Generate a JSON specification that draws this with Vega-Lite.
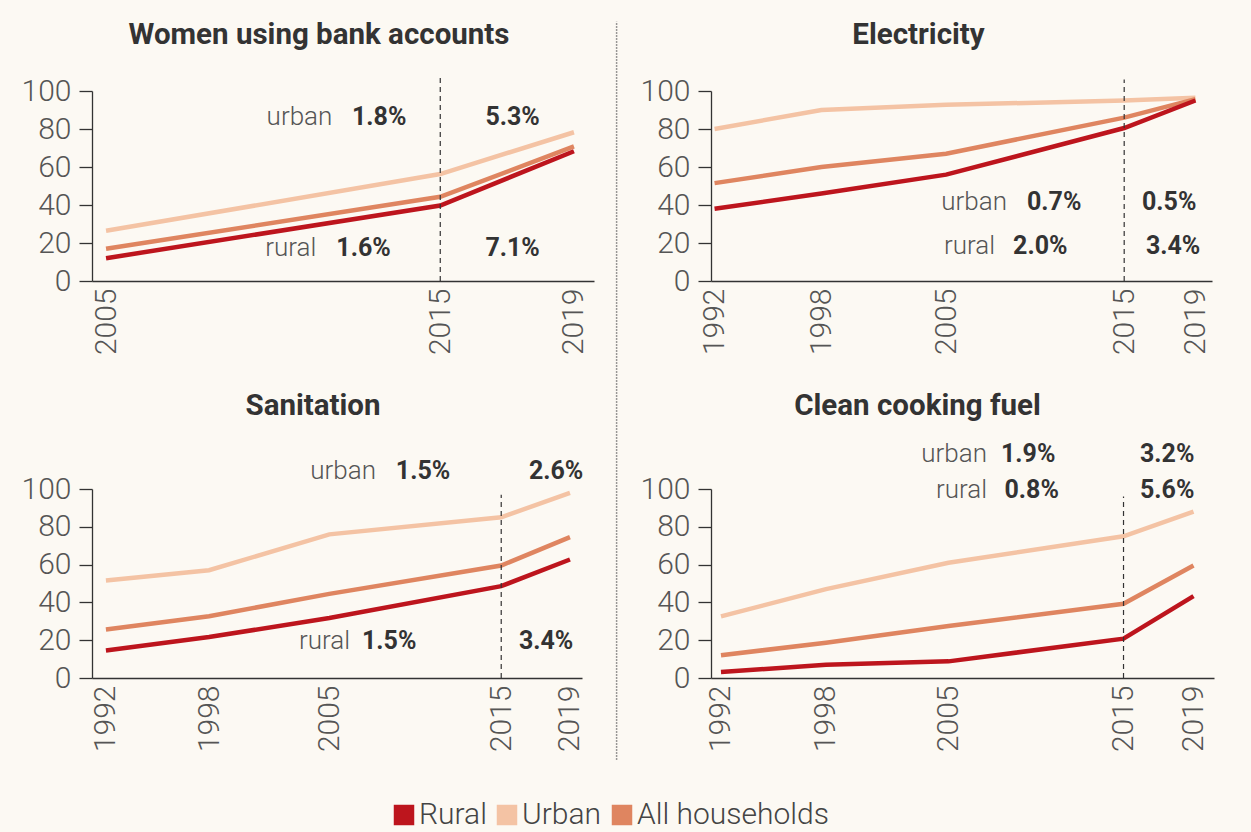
{
  "$schema": "https://vega.github.io/schema/vega-lite/v6.json",
  "padding": {"left": 21, "top": 19, "right": 45, "bottom": 10},
  "bounds": "flush",
  "columns": 2,
  "spacing": {"row": 208, "column": 117},
  "datasets": {
    "lines": [
      {"panel": "bank", "group": "Urban", "year": 2005, "value": 26.4},
      {"panel": "bank", "group": "Urban", "year": 2015, "value": 56.3},
      {"panel": "bank", "group": "Urban", "year": 2019, "value": 78.3},
      {"panel": "bank", "group": "All households", "year": 2005, "value": 17},
      {"panel": "bank", "group": "All households", "year": 2015, "value": 44.3},
      {"panel": "bank", "group": "All households", "year": 2019, "value": 70.8},
      {"panel": "bank", "group": "Rural", "year": 2005, "value": 12},
      {"panel": "bank", "group": "Rural", "year": 2015, "value": 39.7},
      {"panel": "bank", "group": "Rural", "year": 2019, "value": 68.3},

      {"panel": "elec", "group": "Urban", "year": 1992, "value": 80},
      {"panel": "elec", "group": "Urban", "year": 1998, "value": 90},
      {"panel": "elec", "group": "Urban", "year": 2005, "value": 92.7},
      {"panel": "elec", "group": "Urban", "year": 2015, "value": 95},
      {"panel": "elec", "group": "Urban", "year": 2019, "value": 96.5},
      {"panel": "elec", "group": "All households", "year": 1992, "value": 51.5},
      {"panel": "elec", "group": "All households", "year": 1998, "value": 60},
      {"panel": "elec", "group": "All households", "year": 2005, "value": 67},
      {"panel": "elec", "group": "All households", "year": 2015, "value": 86},
      {"panel": "elec", "group": "All households", "year": 2019, "value": 95.7},
      {"panel": "elec", "group": "Rural", "year": 1992, "value": 38},
      {"panel": "elec", "group": "Rural", "year": 1998, "value": 46},
      {"panel": "elec", "group": "Rural", "year": 2005, "value": 56},
      {"panel": "elec", "group": "Rural", "year": 2015, "value": 80.5},
      {"panel": "elec", "group": "Rural", "year": 2019, "value": 95},

      {"panel": "sani", "group": "Urban", "year": 1992, "value": 51.6},
      {"panel": "sani", "group": "Urban", "year": 1998, "value": 57},
      {"panel": "sani", "group": "Urban", "year": 2005, "value": 76},
      {"panel": "sani", "group": "Urban", "year": 2015, "value": 85},
      {"panel": "sani", "group": "Urban", "year": 2019, "value": 98},
      {"panel": "sani", "group": "All households", "year": 1992, "value": 25.7},
      {"panel": "sani", "group": "All households", "year": 1998, "value": 32.7},
      {"panel": "sani", "group": "All households", "year": 2005, "value": 44.5},
      {"panel": "sani", "group": "All households", "year": 2015, "value": 59.5},
      {"panel": "sani", "group": "All households", "year": 2019, "value": 74.5},
      {"panel": "sani", "group": "Rural", "year": 1992, "value": 14.6},
      {"panel": "sani", "group": "Rural", "year": 1998, "value": 21.7},
      {"panel": "sani", "group": "Rural", "year": 2005, "value": 31.7},
      {"panel": "sani", "group": "Rural", "year": 2015, "value": 48.6},
      {"panel": "sani", "group": "Rural", "year": 2019, "value": 62.7},

      {"panel": "cook", "group": "Urban", "year": 1992, "value": 32.6},
      {"panel": "cook", "group": "Urban", "year": 1998, "value": 47},
      {"panel": "cook", "group": "Urban", "year": 2005, "value": 61},
      {"panel": "cook", "group": "Urban", "year": 2015, "value": 75},
      {"panel": "cook", "group": "Urban", "year": 2019, "value": 88},
      {"panel": "cook", "group": "All households", "year": 1992, "value": 12},
      {"panel": "cook", "group": "All households", "year": 1998, "value": 18.7},
      {"panel": "cook", "group": "All households", "year": 2005, "value": 27.5},
      {"panel": "cook", "group": "All households", "year": 2015, "value": 39.3},
      {"panel": "cook", "group": "All households", "year": 2019, "value": 59.5},
      {"panel": "cook", "group": "Rural", "year": 1992, "value": 3.2},
      {"panel": "cook", "group": "Rural", "year": 1998, "value": 7},
      {"panel": "cook", "group": "Rural", "year": 2005, "value": 8.8},
      {"panel": "cook", "group": "Rural", "year": 2015, "value": 20.8},
      {"panel": "cook", "group": "Rural", "year": 2019, "value": 43.3}
    ],
    "rules": [
      {"panel": "bank", "kind": "dash", "year": 2015, "y": 0, "y2": 107},
      {"panel": "elec", "kind": "dash", "year": 2015, "y": 0, "y2": 106},
      {"panel": "sani", "kind": "dash", "year": 2015, "y": 0, "y2": 97},
      {"panel": "cook", "kind": "dash", "year": 2015, "y": 0, "y2": 96},
      {"panel": "elec", "kind": "sep", "year": 1986.5, "y": -252, "y2": 136.6}
    ],
    "notes": [
      {"panel": "bank", "kind": "label", "year": 2011.77, "value": 86.4, "text": "urban"},
      {"panel": "bank", "kind": "pct", "year": 2012.36, "value": 86.4, "text": "1.8%"},
      {"panel": "bank", "kind": "pct", "year": 2016.35, "value": 86.4, "text": "5.3%"},
      {"panel": "bank", "kind": "label", "year": 2011.29, "value": 17.3, "text": "rural"},
      {"panel": "bank", "kind": "pct", "year": 2011.89, "value": 17.3, "text": "1.6%"},
      {"panel": "bank", "kind": "pct", "year": 2016.35, "value": 17.3, "text": "7.1%"},

      {"panel": "elec", "kind": "label", "year": 2008.42, "value": 41.5, "text": "urban"},
      {"panel": "elec", "kind": "pct", "year": 2009.54, "value": 41.5, "text": "0.7%"},
      {"panel": "elec", "kind": "pct", "year": 2016.0, "value": 41.5, "text": "0.5%"},
      {"panel": "elec", "kind": "label", "year": 2007.75, "value": 18.3, "text": "rural"},
      {"panel": "elec", "kind": "pct", "year": 2008.76, "value": 18.3, "text": "2.0%"},
      {"panel": "elec", "kind": "pct", "year": 2016.22, "value": 18.3, "text": "3.4%"},

      {"panel": "sani", "kind": "label", "year": 2007.71, "value": 109.5, "text": "urban"},
      {"panel": "sani", "kind": "pct", "year": 2008.87, "value": 109.5, "text": "1.5%"},
      {"panel": "sani", "kind": "pct", "year": 2016.61, "value": 109.5, "text": "2.6%"},
      {"panel": "sani", "kind": "label", "year": 2006.2, "value": 19.6, "text": "rural"},
      {"panel": "sani", "kind": "pct", "year": 2006.9, "value": 19.6, "text": "1.5%"},
      {"panel": "sani", "kind": "pct", "year": 2016.03, "value": 19.6, "text": "3.4%"},

      {"panel": "cook", "kind": "label", "year": 2007.2, "value": 118.5, "text": "urban"},
      {"panel": "cook", "kind": "pct", "year": 2008.0, "value": 118.5, "text": "1.9%"},
      {"panel": "cook", "kind": "pct", "year": 2015.94, "value": 118.5, "text": "3.2%"},
      {"panel": "cook", "kind": "label", "year": 2007.2, "value": 99.5, "text": "rural"},
      {"panel": "cook", "kind": "pct", "year": 2008.2, "value": 99.5, "text": "0.8%"},
      {"panel": "cook", "kind": "pct", "year": 2015.94, "value": 99.5, "text": "5.6%"}
    ]
  },
  "concat": [
    {
      "width": 502, "height": 190,
      "title": {"text": "Women using bank accounts", "offset": 26, "dx": -24},
      "layer": [
        {
          "data": {"name": "lines"},
          "transform": [{"filter": "datum.panel === 'bank'"}],
          "mark": {"type": "line", "strokeWidth": 4.5},
          "encoding": {
            "x": {"field": "year", "type": "quantitative", "scale": {"domain": [2004.58, 2019.6], "nice": false, "zero": false}, "axis": {"title": null, "values": [2005, 2015, 2019], "format": "d", "tickCount": 20}},
            "y": {"field": "value", "type": "quantitative", "scale": {"domain": [0, 100], "nice": false}, "axis": {"title": null, "values": [0, 20, 40, 60, 80, 100], "tickCount": 10}},
            "color": {"field": "group", "type": "nominal",
              "scale": {"domain": ["Rural", "Urban", "All households"], "range": ["#bd151d", "#f4c3a4", "#df8560"]},
              "legend": {"title": null, "symbolType": "square", "symbolSize": 420, "symbolStrokeWidth": 0,
                "encode": {"symbols": {"update": {"fill": {"scale": "color", "field": "value"}, "fillOpacity": {"value": 1}, "opacity": {"value": 1}}}}}}
          }
        },
        {
          "data": {"name": "rules"},
          "transform": [{"filter": "datum.panel === 'bank'"}],
          "mark": {"type": "rule", "strokeDash": [5, 4], "color": "#333", "strokeWidth": 1.2},
          "encoding": {"x": {"field": "year", "type": "quantitative"}, "y": {"field": "y", "type": "quantitative"}, "y2": {"field": "y2"}}
        },
        {
          "data": {"name": "notes"},
          "transform": [{"filter": "datum.panel === 'bank' && datum.kind === 'label'"}],
          "mark": {"type": "text", "align": "right", "baseline": "middle", "fontSize": 26, "fontWeight": 300, "color": "#555"},
          "encoding": {"x": {"field": "year", "type": "quantitative"}, "y": {"field": "value", "type": "quantitative"}, "text": {"field": "text"}}
        },
        {
          "data": {"name": "notes"},
          "transform": [{"filter": "datum.panel === 'bank' && datum.kind === 'pct'"}],
          "mark": {"type": "text", "align": "left", "baseline": "middle", "fontSize": 25, "fontWeight": "bold", "color": "#333"},
          "encoding": {"x": {"field": "year", "type": "quantitative"}, "y": {"field": "value", "type": "quantitative"}, "text": {"field": "text"}}
        }
      ]
    },
    {
      "width": 501, "height": 190,
      "title": {"text": "Electricity", "offset": -30, "dx": -43},
      "layer": [
        {
          "data": {"name": "lines"},
          "transform": [{"filter": "datum.panel === 'elec'"}],
          "mark": {"type": "line", "strokeWidth": 4.5},
          "encoding": {
            "x": {"field": "year", "type": "quantitative", "scale": {"domain": [1991.8, 2019.93], "nice": false, "zero": false}, "axis": {"title": null, "values": [1992, 1998, 2005, 2015, 2019], "format": "d", "tickCount": 20}},
            "y": {"field": "value", "type": "quantitative", "scale": {"domain": [0, 100], "nice": false}, "axis": {"title": null, "values": [0, 20, 40, 60, 80, 100], "tickCount": 10}},
            "color": {"field": "group", "type": "nominal"}
          }
        },
        {
          "data": {"name": "rules"},
          "transform": [{"filter": "datum.panel === 'elec' && datum.kind === 'dash'"}],
          "mark": {"type": "rule", "strokeDash": [5, 4], "color": "#333", "strokeWidth": 1.2},
          "encoding": {"x": {"field": "year", "type": "quantitative"}, "y": {"field": "y", "type": "quantitative"}, "y2": {"field": "y2"}}
        },
        {
          "data": {"name": "rules"},
          "transform": [{"filter": "datum.panel === 'elec' && datum.kind === 'sep'"}],
          "mark": {"type": "rule", "strokeDash": [1.5, 1.5], "color": "#777", "strokeWidth": 1.5},
          "encoding": {"x": {"field": "year", "type": "quantitative"}, "y": {"field": "y", "type": "quantitative"}, "y2": {"field": "y2"}}
        },
        {
          "data": {"name": "notes"},
          "transform": [{"filter": "datum.panel === 'elec' && datum.kind === 'label'"}],
          "mark": {"type": "text", "align": "right", "baseline": "middle", "fontSize": 26, "fontWeight": 300, "color": "#555"},
          "encoding": {"x": {"field": "year", "type": "quantitative"}, "y": {"field": "value", "type": "quantitative"}, "text": {"field": "text"}}
        },
        {
          "data": {"name": "notes"},
          "transform": [{"filter": "datum.panel === 'elec' && datum.kind === 'pct'"}],
          "mark": {"type": "text", "align": "left", "baseline": "middle", "fontSize": 25, "fontWeight": "bold", "color": "#333"},
          "encoding": {"x": {"field": "year", "type": "quantitative"}, "y": {"field": "value", "type": "quantitative"}, "text": {"field": "text"}}
        }
      ]
    },
    {
      "width": 490, "height": 189,
      "title": {"text": "Sanitation", "offset": 37, "dx": -24},
      "layer": [
        {
          "data": {"name": "lines"},
          "transform": [{"filter": "datum.panel === 'sani'"}],
          "mark": {"type": "line", "strokeWidth": 4.5},
          "encoding": {
            "x": {"field": "year", "type": "quantitative", "scale": {"domain": [1991.19, 2019.7], "nice": false, "zero": false}, "axis": {"title": null, "values": [1992, 1998, 2005, 2015, 2019], "format": "d", "tickCount": 20}},
            "y": {"field": "value", "type": "quantitative", "scale": {"domain": [0, 100], "nice": false}, "axis": {"title": null, "values": [0, 20, 40, 60, 80, 100], "tickCount": 10}},
            "color": {"field": "group", "type": "nominal"}
          }
        },
        {
          "data": {"name": "rules"},
          "transform": [{"filter": "datum.panel === 'sani'"}],
          "mark": {"type": "rule", "strokeDash": [5, 4], "color": "#333", "strokeWidth": 1.2},
          "encoding": {"x": {"field": "year", "type": "quantitative"}, "y": {"field": "y", "type": "quantitative"}, "y2": {"field": "y2"}}
        },
        {
          "data": {"name": "notes"},
          "transform": [{"filter": "datum.panel === 'sani' && datum.kind === 'label'"}],
          "mark": {"type": "text", "align": "right", "baseline": "middle", "fontSize": 26, "fontWeight": 300, "color": "#555"},
          "encoding": {"x": {"field": "year", "type": "quantitative"}, "y": {"field": "value", "type": "quantitative"}, "text": {"field": "text"}}
        },
        {
          "data": {"name": "notes"},
          "transform": [{"filter": "datum.panel === 'sani' && datum.kind === 'pct'"}],
          "mark": {"type": "text", "align": "left", "baseline": "middle", "fontSize": 25, "fontWeight": "bold", "color": "#333"},
          "encoding": {"x": {"field": "year", "type": "quantitative"}, "y": {"field": "value", "type": "quantitative"}, "text": {"field": "text"}}
        }
      ]
    },
    {
      "width": 503, "height": 189,
      "title": {"text": "Clean cooking fuel", "offset": 20, "dx": -45},
      "layer": [
        {
          "data": {"name": "lines"},
          "transform": [{"filter": "datum.panel === 'cook'"}],
          "mark": {"type": "line", "strokeWidth": 4.5},
          "encoding": {
            "x": {"field": "year", "type": "quantitative", "scale": {"domain": [1991.43, 2020.17], "nice": false, "zero": false}, "axis": {"title": null, "values": [1992, 1998, 2005, 2015, 2019], "format": "d", "tickCount": 20}},
            "y": {"field": "value", "type": "quantitative", "scale": {"domain": [0, 100], "nice": false}, "axis": {"title": null, "values": [0, 20, 40, 60, 80, 100], "tickCount": 10}},
            "color": {"field": "group", "type": "nominal"}
          }
        },
        {
          "data": {"name": "rules"},
          "transform": [{"filter": "datum.panel === 'cook'"}],
          "mark": {"type": "rule", "strokeDash": [5, 4], "color": "#333", "strokeWidth": 1.2},
          "encoding": {"x": {"field": "year", "type": "quantitative"}, "y": {"field": "y", "type": "quantitative"}, "y2": {"field": "y2"}}
        },
        {
          "data": {"name": "notes"},
          "transform": [{"filter": "datum.panel === 'cook' && datum.kind === 'label'"}],
          "mark": {"type": "text", "align": "right", "baseline": "middle", "fontSize": 26, "fontWeight": 300, "color": "#555"},
          "encoding": {"x": {"field": "year", "type": "quantitative"}, "y": {"field": "value", "type": "quantitative"}, "text": {"field": "text"}}
        },
        {
          "data": {"name": "notes"},
          "transform": [{"filter": "datum.panel === 'cook' && datum.kind === 'pct'"}],
          "mark": {"type": "text", "align": "left", "baseline": "middle", "fontSize": 25, "fontWeight": "bold", "color": "#333"},
          "encoding": {"x": {"field": "year", "type": "quantitative"}, "y": {"field": "value", "type": "quantitative"}, "text": {"field": "text"}}
        }
      ]
    }
  ],
  "config": {
    "background": "#fcf9f3",
    "view": {"stroke": null},
    "font": "Roboto",
    "axis": {"domainColor": "#333", "domainWidth": 1.3, "tickColor": "#333", "tickWidth": 1.3, "labelFont": "Roboto", "labelFontSize": 30, "labelFontWeight": 300, "labelColor": "#555", "grid": false, "labelFlush": false, "labelOverlap": false},
    "axisY": {"tickSize": 13, "labelPadding": 8},
    "axisX": {"ticks": false, "labelAngle": -90, "labelPadding": 7},
    "title": {"font": "Roboto", "fontSize": 29.5, "fontWeight": "bold", "color": "#333", "anchor": "middle", "baseline": "alphabetic"},
    "legend": {
      "orient": "none", "legendX": 297, "legendY": 709, "direction": "horizontal",
      "labelFont": "Roboto", "labelFontSize": 30, "labelFontWeight": 300, "labelColor": "#444", "labelOffset": 0, "columnPadding": 5,
      "labelLimit": 400
    }
  }
}
